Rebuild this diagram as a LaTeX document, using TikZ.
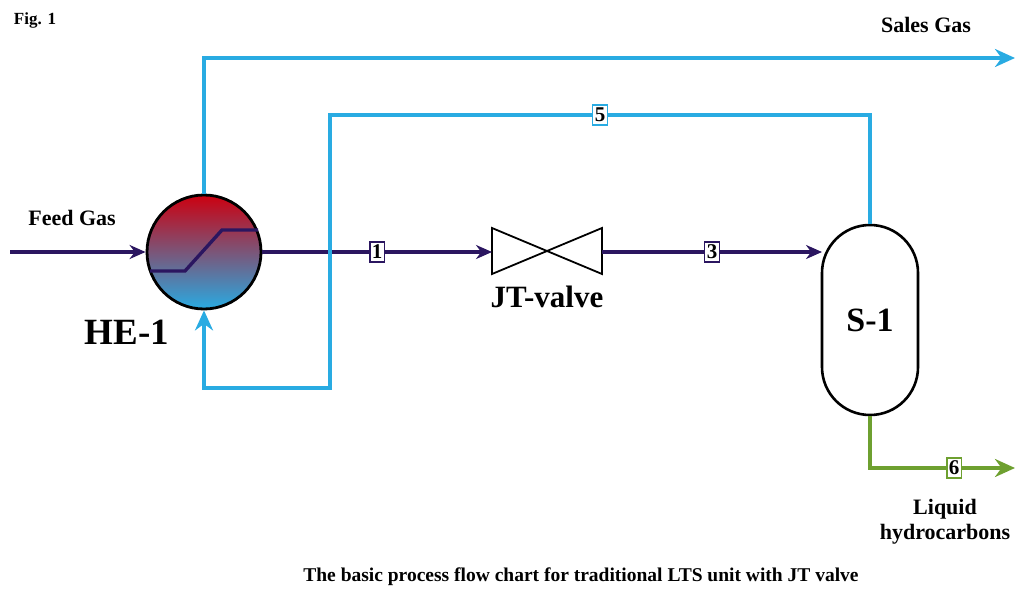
\documentclass[tikz,border=0pt]{standalone}
\usepackage{fontspec}
\setmainfont{Liberation Serif}
\usetikzlibrary{arrows.meta,positioning}

\definecolor{purpleLTS}{HTML}{2b1660}
\definecolor{blueLTS}{HTML}{29abe2}
\definecolor{redLTS}{HTML}{cc0010}
\definecolor{greenLTS}{HTML}{6ea030}

\tikzset{
  stream/.style={line width=3.4pt},
  tag/.style={draw, fill=white, line width=1.4pt, inner xsep=2pt, inner ysep=3pt, text=black, font=\bfseries\fontsize{21}{21}\selectfont},
  lbl/.style={font=\bfseries\fontsize{22}{25}\selectfont, align=center},
  unit/.style={font=\bfseries\fontsize{37}{37}\selectfont}
}

\begin{document}
\begin{tikzpicture}[x=1pt,y=-1pt]
\useasboundingbox (0,0) rectangle (1030,599);

% exchanger
\shade[top color=redLTS, bottom color=blueLTS] (204,252) circle (57);
\node[circle, draw, line width=2.8pt, minimum size=114pt, inner sep=0pt] (he) at (204,252) {};
\draw[purpleLTS, line width=3.4pt] (150,271) -- (185,271) -- (222,230) -- (258,230);
\node[unit] (helbl) at (127,332) {HE-1};

% valve
\coordinate (vl) at (492,252);
\coordinate (vr) at (602,252);
\draw[line width=1.8pt] (492,228) -- (602,274) -- (602,228) -- (492,274) -- cycle;
\node[lbl, font=\bfseries\fontsize{31}{31}\selectfont] (vlbl) at (547,297) {JT-valve};

% separator
\node[draw, line width=2.6pt, minimum width=96pt, minimum height=190pt, rounded corners=47.9pt] (sep) at (870,320) {};
\node[unit, font=\bfseries\fontsize{34}{34}\selectfont] at (sep) {S-1};
\coordinate (sepin) at (822,252);

% feed
\coordinate (feed) at (10,252);
\node[lbl] (feedlbl) at (72,218) {Feed Gas};
\draw[stream, purpleLTS, -{Stealth[length=16pt,width=14pt]}] (feed) -- (he.west);

% stream 1 and 3
\draw[stream, purpleLTS, -{Stealth[length=16pt,width=14pt]}] (he.east) -- node[tag, draw=purpleLTS]{1} (vl);
\draw[stream, purpleLTS, -{Stealth[length=16pt,width=14pt]}] (vr) -- node[tag, draw=purpleLTS]{3} (sepin);

% sales gas
\coordinate (sales) at (1015,58);
\node[lbl] (saleslbl) at (926,25) {Sales Gas};
\draw[stream, blueLTS, -{Stealth[length=20pt,width=18pt]}] (he.north) |- (sales);

% stream 5
\draw[stream, blueLTS, -{Stealth[length=20pt,width=18pt]}] (sep.north) |- (330,115) -- (330,388) -| (he.south);
\node[tag, draw=blueLTS] at (600,115) {5};

% liquid
\coordinate (liq) at (1015,468);
\draw[stream, greenLTS, -{Stealth[length=20pt,width=18pt]}] (sep.south) |- node[pos=0.79, tag, draw=greenLTS]{6} (liq);
\node[lbl] (liqlbl) at (945,522) {Liquid\\hydrocarbons};

\node[font=\bfseries\fontsize{17}{17}\selectfont] (fig) at (35,20) {Fig. 1};
\node[font=\bfseries\fontsize{19.5}{19.5}\selectfont] (cap) at (581,577) {The basic process flow chart for traditional LTS unit with JT valve};
\end{tikzpicture}
\end{document}
